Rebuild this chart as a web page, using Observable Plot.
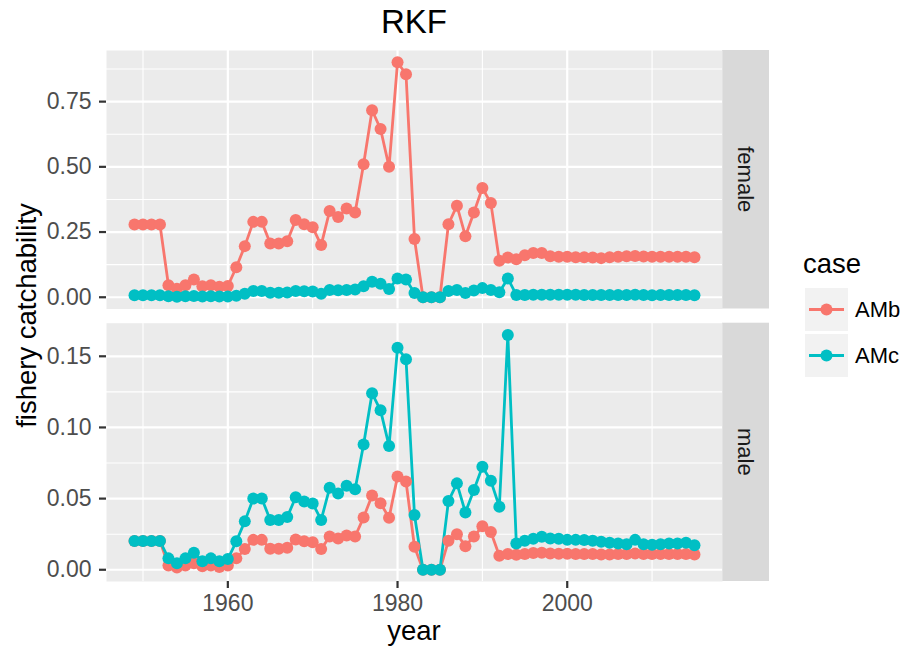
<!DOCTYPE html>
<html><head><meta charset="utf-8">
<script src="https://cdn.jsdelivr.net/npm/d3@7"></script>
<script src="https://cdn.jsdelivr.net/npm/@observablehq/plot@0.6"></script>
<style>
body{margin:0;background:#fff;}
#chart{position:relative;width:909px;height:655px;font-family:"Liberation Sans",Arial,sans-serif;overflow:hidden;background:#fff;}
#chart svg{position:absolute;left:0;}
</style></head><body><div id="chart"></div>
<script>
const years = [1949,1950,1951,1952,1953,1954,1955,1956,1957,1958,
  1959,1960,1961,1962,1963,1964,1965,1966,1967,1968,
  1969,1970,1971,1972,1973,1974,1975,1976,1977,1978,
  1979,1980,1981,1982,1983,1984,1985,1986,1987,1988,
  1989,1990,1991,1992,1993,1994,1995,1996,1997,1998,
  1999,2000,2001,2002,2003,2004,2005,2006,2007,2008,
  2009,2010,2011,2012,2013,2014,2015];

const femaleAMb = [0.279,0.279,0.279,0.279,0.046,0.033,0.046,0.068,0.042,0.046,
  0.040,0.043,0.115,0.196,0.289,0.289,0.206,0.206,0.215,0.296,
  0.280,0.268,0.200,0.331,0.308,0.340,0.325,0.510,0.717,0.645,
  0.500,0.901,0.855,0.223,0,0,0,0.280,0.351,0.234,
  0.325,0.419,0.361,0.140,0.152,0.146,0.161,0.170,0.170,0.157,
  0.155,0.155,0.153,0.153,0.152,0.150,0.153,0.155,0.157,0.158,
  0.156,0.155,0.155,0.155,0.155,0.155,0.153];

const femaleAMc = [0.008,0.008,0.008,0.008,0.004,0.002,0.004,0.005,0.003,0.004,
  0.003,0.003,0.006,0.013,0.024,0.024,0.017,0.017,0.018,0.024,
  0.023,0.022,0.013,0.028,0.027,0.028,0.030,0.042,0.059,0.052,
  0.032,0.072,0.068,0.016,0,0,0,0.024,0.028,0.016,
  0.026,0.035,0.028,0.019,0.072,0.009,0.009,0.010,0.010,0.010,
  0.010,0.010,0.010,0.009,0.009,0.009,0.009,0.009,0.009,0.010,
  0.009,0.008,0.009,0.009,0.009,0.009,0.008];

const maleAMb = [0.0202,0.0202,0.0202,0.0202,0.003,0.0015,0.003,0.0045,0.0025,0.003,
  0.002,0.003,0.008,0.0145,0.021,0.021,0.0147,0.0147,0.0155,0.0213,
  0.020,0.0194,0.0145,0.0234,0.022,0.0241,0.0234,0.0368,0.0522,0.0468,
  0.0365,0.0656,0.062,0.0162,0,0,0,0.0204,0.025,0.0166,
  0.0234,0.0305,0.0265,0.0098,0.011,0.0105,0.011,0.0118,0.012,0.0115,
  0.0112,0.0112,0.011,0.011,0.011,0.0108,0.0108,0.011,0.011,0.0115,
  0.011,0.011,0.011,0.011,0.011,0.011,0.0108];

const maleAMc = [0.0202,0.0202,0.0202,0.0202,0.008,0.0045,0.008,0.012,0.006,0.008,
  0.006,0.0075,0.020,0.034,0.050,0.050,0.035,0.035,0.037,0.051,
  0.048,0.0466,0.035,0.0576,0.0536,0.059,0.0565,0.088,0.124,0.112,
  0.087,0.156,0.148,0.0384,0,0,0,0.0483,0.0607,0.0403,
  0.056,0.0724,0.0625,0.0443,0.165,0.0185,0.0204,0.0218,0.0232,0.022,
  0.0218,0.021,0.021,0.0209,0.0204,0.0197,0.019,0.0185,0.018,0.021,
  0.018,0.0175,0.018,0.0185,0.0185,0.019,0.0173];

const cases = ["AMb", "AMc"];
const caseColors = ["#F8766D", "#00BFC4"];
const facets = ["female", "male"];
const xMajorTicks = [1960, 1980, 2000];
const xMinorTicks = [1950, 1970, 1990, 2010];
const femaleMajorTicks = [0, 0.25, 0.5, 0.75];
const femaleMinorTicks = [0.125, 0.375, 0.625, 0.875];
const maleMajorTicks = [0, 0.05, 0.10, 0.15];
const maleMinorTicks = [0.025, 0.075, 0.125];
const titleText = "RKF";
const xTitle = "year";
const yTitle = "fishery catchability";
const legendTitle = "case";

function rows(amb, amc) {
  const out = [];
  [amb, amc].forEach((vals, k) => vals.forEach((v, i) => out.push({year: years[i], value: v, case: cases[k]})));
  return out;
}
function expand(vals) {
  const [lo, hi] = d3.extent(vals);
  const d = (hi - lo) * 0.05;
  return [lo - d, hi + d];
}

const FONT = "Liberation Sans, Arial, sans-serif";
const PL = 106, PR = 722;
const fTop = 50, fBot = 308.5, mTop = 322.7, mBot = 581;
const xDomain = expand(years);
const chart = document.getElementById("chart");

function panel({data, majorY, minorY, yDomain, top, marginTop, height, marginBottom, showX}) {
  const marks = [
    Plot.frame({fill: "#EBEBEB", stroke: "none"}),
    Plot.ruleX(xMinorTicks, {stroke: "#FFFFFF", strokeWidth: 1.1}),
    Plot.ruleY(minorY, {stroke: "#FFFFFF", strokeWidth: 1.1}),
    Plot.ruleX(xMajorTicks, {stroke: "#FFFFFF", strokeWidth: 2.2}),
    Plot.ruleY(majorY, {stroke: "#FFFFFF", strokeWidth: 2.2}),
    Plot.line(data, {x: "year", y: "value", z: "case", stroke: "case", strokeWidth: 2.8}),
    Plot.dot(data, {x: "year", y: "value", fill: "case", r: 6}),
    Plot.axisY(majorY, {tickSize: 7, tickPadding: 8, tickFormat: d3.format(".2f"), fontSize: 23,
      color: "#4D4D4D", stroke: "#333333", strokeWidth: 2.2, label: null})
  ];
  if (showX) marks.push(Plot.axisX(xMajorTicks, {tickSize: 7, tickPadding: 6, tickFormat: d => String(d),
      fontSize: 23, color: "#4D4D4D", stroke: "#333333", strokeWidth: 2.2, label: null}));
  const svg = Plot.plot({
    width: PR, height, marginLeft: PL, marginRight: 0, marginTop, marginBottom,
    style: {background: "transparent", fontFamily: FONT, overflow: "visible"},
    x: {domain: xDomain, axis: showX ? undefined : null},
    y: {domain: yDomain},
    color: {domain: cases, range: caseColors},
    marks
  });
  svg.style.top = top + "px";
  chart.appendChild(svg);
}

// annotation layer
const ann = d3.select(chart).append("svg").attr("width", 909).attr("height", 655).style("top", "0px")
  .attr("font-family", FONT);
ann.append("text").attr("x", (PL + PR) / 2).attr("y", 33).attr("text-anchor", "middle")
  .attr("font-size", 33).attr("fill", "#000").text(titleText);
ann.append("text").attr("x", (PL + PR) / 2).attr("y", 640).attr("text-anchor", "middle")
  .attr("font-size", 27.5).attr("fill", "#000").text(xTitle);
ann.append("text").attr("transform", `translate(36,${(fTop + mBot) / 2}) rotate(-90)`)
  .attr("text-anchor", "middle").attr("font-size", 27.5).attr("fill", "#000").text(yTitle);
[[fTop, fBot], [mTop, mBot]].forEach(([t, b], i) => {
  ann.append("rect").attr("x", PR).attr("y", t).attr("width", 47).attr("height", b - t).attr("fill", "#D9D9D9");
  ann.append("text").attr("transform", `translate(${PR + 23.5},${(t + b) / 2}) rotate(90)`)
    .attr("text-anchor", "middle").attr("dominant-baseline", "central")
    .attr("font-size", 22).attr("fill", "#1A1A1A").text(facets[i]);
});
ann.append("text").attr("x", 803).attr("y", 273).attr("font-size", 27.5).attr("fill", "#000").text(legendTitle);
cases.forEach((c, i) => {
  const y0 = 288 + i * 46;
  ann.append("rect").attr("x", 805).attr("y", y0).attr("width", 43).attr("height", 43).attr("fill", "#F2F2F2");
  ann.append("line").attr("x1", 809).attr("x2", 844).attr("y1", y0 + 21.5).attr("y2", y0 + 21.5)
    .attr("stroke", caseColors[i]).attr("stroke-width", 2.8);
  ann.append("circle").attr("cx", 826.5).attr("cy", y0 + 21.5).attr("r", 6).attr("fill", caseColors[i]);
  ann.append("text").attr("x", 855).attr("y", y0 + 21.5).attr("dominant-baseline", "central")
    .attr("font-size", 22).attr("fill", "#000").text(c);
});

panel({data: rows(femaleAMb, femaleAMc), majorY: femaleMajorTicks, minorY: femaleMinorTicks,
  yDomain: expand(femaleAMb.concat(femaleAMc)), top: 0, marginTop: fTop, height: fBot, marginBottom: 0, showX: false});
panel({data: rows(maleAMb, maleAMc), majorY: maleMajorTicks, minorY: maleMinorTicks,
  yDomain: expand(maleAMb.concat(maleAMc)), top: 300, marginTop: mTop - 300, height: 355, marginBottom: 655 - mBot, showX: true});
</script></body></html>
